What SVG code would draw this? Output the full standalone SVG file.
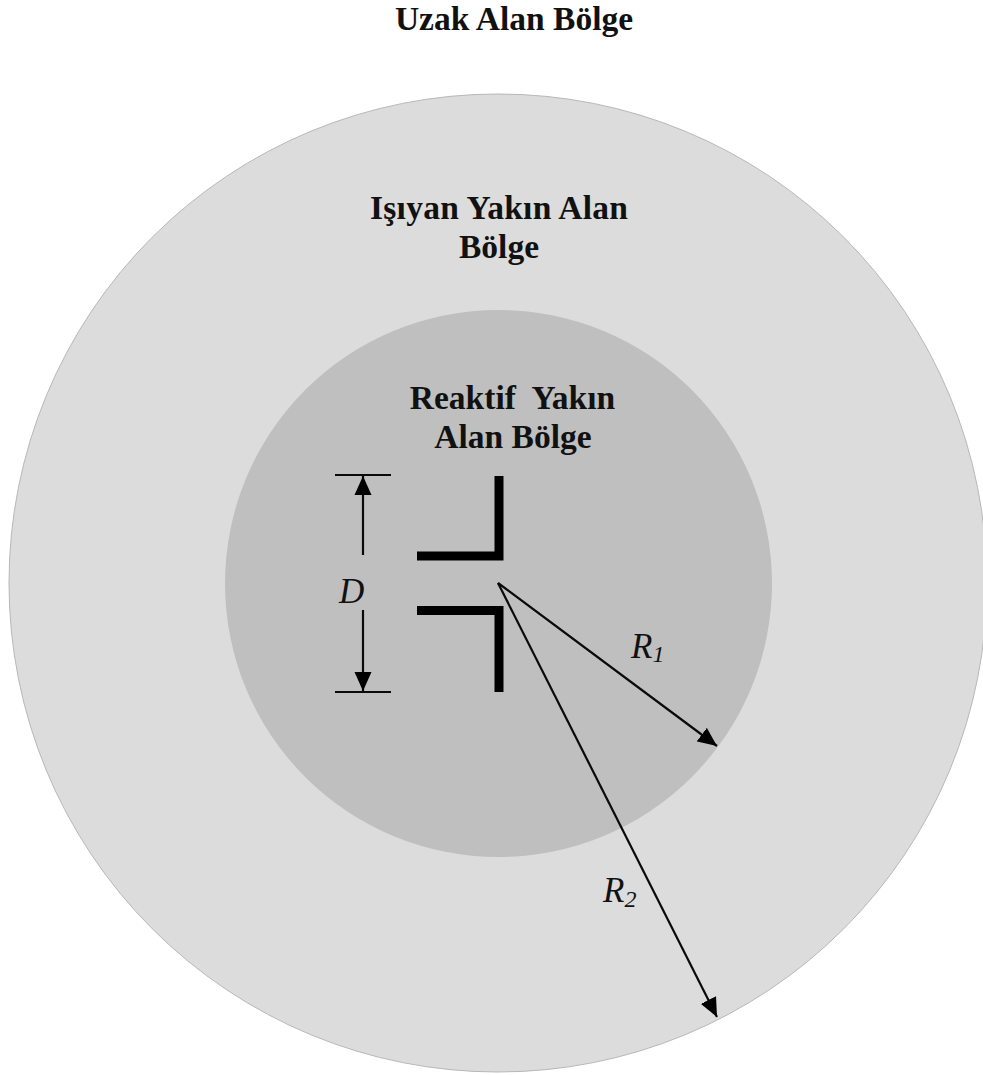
<svg xmlns="http://www.w3.org/2000/svg" width="983" height="1075" viewBox="0 0 983 1075">
<style>
.t{font-family:"Liberation Serif","Times New Roman",serif;font-weight:bold;font-size:33.500px;fill:#111;text-anchor:middle}
.i{font-family:"Liberation Serif","Times New Roman",serif;font-style:italic;font-size:35px;fill:#111}
.s{font-size:24px}
.c{stroke:#0a0a0a;stroke-width:2.200;fill:none}
.d{stroke:#000;stroke-width:9;fill:none}
</style>
<defs>
<marker id="a" markerUnits="userSpaceOnUse" markerWidth="20" markerHeight="18" refX="19" refY="9" orient="auto"><path d="M0 0.500L19 9L0 17.500z" fill="#000"/></marker>
</defs>
<rect width="983" height="1075" fill="#fff"/>
<g id="outer"><circle cx="498" cy="583" r="489" fill="#dcdcdc" stroke="#b8b8b8" stroke-width="1"/></g>
<g id="inner"><circle cx="498.500" cy="583.500" r="273.500" fill="#bfbfbf"/></g>
<g id="dipole">
<path class="d" d="M499 476V556H417"/>
<path class="d" d="M417 610.500H499V692"/>
</g>
<g id="connectors">
<path class="c" d="M335 475H391M335 692H391"/>
<path class="c" d="M363 555V476" marker-end="url(#a)"/>
<path class="c" d="M363 610V691" marker-end="url(#a)"/>
<path class="c" d="M498 583L717 746" marker-end="url(#a)"/>
<path class="c" d="M498 583L717 1017" marker-end="url(#a)"/>
</g>
<g id="labels">
<text class="t" x="514" y="30">Uzak Alan Bölge</text>
<text class="t" x="499" y="219" textLength="258" lengthAdjust="spacing">Işıyan Yakın Alan</text>
<text class="t" x="499" y="258">Bölge</text>
<text class="t" x="512.500" y="409" xml:space="preserve">Reaktif  Yakın</text>
<text class="t" x="513" y="448">Alan Bölge</text>
<text class="i" x="339" y="603">D</text>
<text class="i" x="631" y="658">R<tspan class="s" dy="4">1</tspan></text>
<text class="i" x="603" y="902">R<tspan class="s" dy="5">2</tspan></text>
</g>
</svg>
